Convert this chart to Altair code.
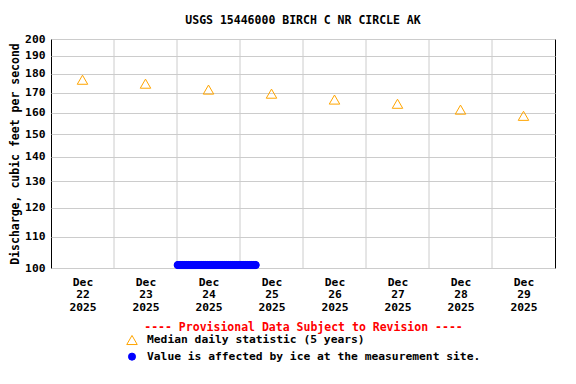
import altair as alt
import pandas as pd

FONT = "DejaVu Sans Mono"

# ---- data ----
median_dates = ["2025-12-22T12:00", "2025-12-23T12:00", "2025-12-24T12:00", "2025-12-25T12:00",
                "2025-12-26T12:00", "2025-12-27T12:00", "2025-12-28T12:00", "2025-12-29T12:00"]
median_values = [176.8, 174.7, 171.6, 169.5, 166.5, 164.4, 161.5, 158.5]

ice_start = "2025-12-24T00:15"
ice_end = "2025-12-25T06:00"
ice_value = 100.9

grid_days = ["2025-12-23T00:00", "2025-12-24T00:00", "2025-12-25T00:00", "2025-12-26T00:00",
             "2025-12-27T00:00", "2025-12-28T00:00", "2025-12-29T00:00"]
y_ticks = [100, 110, 120, 130, 140, 150, 160, 170, 180, 190, 200]

MED = "Median daily statistic (5 years)"
ICE = "Value is affected by ice at the measurement site."

ice_times = pd.date_range(ice_start, ice_end, freq="15min").strftime("%Y-%m-%dT%H:%M").tolist()

points = pd.DataFrame({
    "t": median_dates + ice_times,
    "q": median_values + [ice_value] * len(ice_times),
    "series": [MED] * len(median_dates) + [ICE] * len(ice_times),
})
grid_df = pd.DataFrame({"t": grid_days})

x_scale = alt.Scale(domain=[alt.DateTime(year=2025, month=12, date=22),
                            alt.DateTime(year=2025, month=12, date=30)])
x_axis = alt.Axis(
    values=[alt.DateTime(year=2025, month=12, date=d, hours=12) for d in range(22, 30)],
    labelExpr="[timeFormat(datum.value, '%b'), timeFormat(datum.value, '%d'), timeFormat(datum.value, '%Y')]",
    grid=False, ticks=False, domain=False,
    labelPadding=8, labelLineHeight=12.5, labelAngle=0,
    title="---- Provisional Data Subject to Revision ----",
    titleColor="#FF0000", titlePadding=9,
)
y_axis = alt.Axis(
    values=y_ticks, grid=True, gridColor="#cccccc", ticks=False, domain=False,
    labelPadding=6, title="Discharge, cubic feet per second", titlePadding=4,
    titleColor="black",
)

legend = alt.Legend(title=None, orient="none", legendX=75, legendY=295,
                    labelOffset=9, rowPadding=3, padding=0, labelLimit=0)

grid = alt.Chart(grid_df).mark_rule(color="#cccccc", strokeWidth=1).encode(
    x=alt.X("t:T", scale=x_scale, axis=x_axis),
)

pts = alt.Chart(points).mark_point(strokeWidth=1, opacity=1).encode(
    x=alt.X("t:T", scale=x_scale, axis=x_axis),
    y=alt.Y("q:Q", scale=alt.Scale(type="log", domain=[100, 200]), axis=y_axis),
    shape=alt.Shape("series:N", scale=alt.Scale(domain=[MED, ICE], range=["triangle-up", "circle"]),
                    legend=legend),
    stroke=alt.Stroke("series:N", scale=alt.Scale(domain=[MED, ICE], range=["#FFA500", "#0000FF"]),
                      legend=legend),
    fill=alt.Fill("series:N", scale=alt.Scale(domain=[MED, ICE], range=["transparent", "#0000FF"]),
                  legend=legend),
    size=alt.Size("series:N", scale=alt.Scale(domain=[MED, ICE], range=[110, 50]),
                  legend=legend),
)

chart = alt.layer(grid, pts).properties(
    width=504, height=229,
    background="white",
    autosize=alt.AutoSizeParams(type="none"),
    padding={"left": 43, "top": 31, "right": 13, "bottom": 108},
    title=alt.Title("USGS 15446000 BIRCH C NR CIRCLE AK", fontSize=11.5, font=FONT,
                    fontWeight="bold", color="black", offset=7),
).configure_view(stroke="black", strokeWidth=1).configure_axis(
    labelFont=FONT, labelFontSize=11.3, labelFontWeight="bold", labelColor="black",
    titleFont=FONT, titleFontSize=11.5, titleFontWeight="bold",
).configure_legend(
    labelFont=FONT, labelFontSize=11.3, labelFontWeight="bold", labelColor="black",
    symbolStrokeWidth=1,
)

chart.save("out.html", embed_options={"renderer": "svg", "actions": False})
